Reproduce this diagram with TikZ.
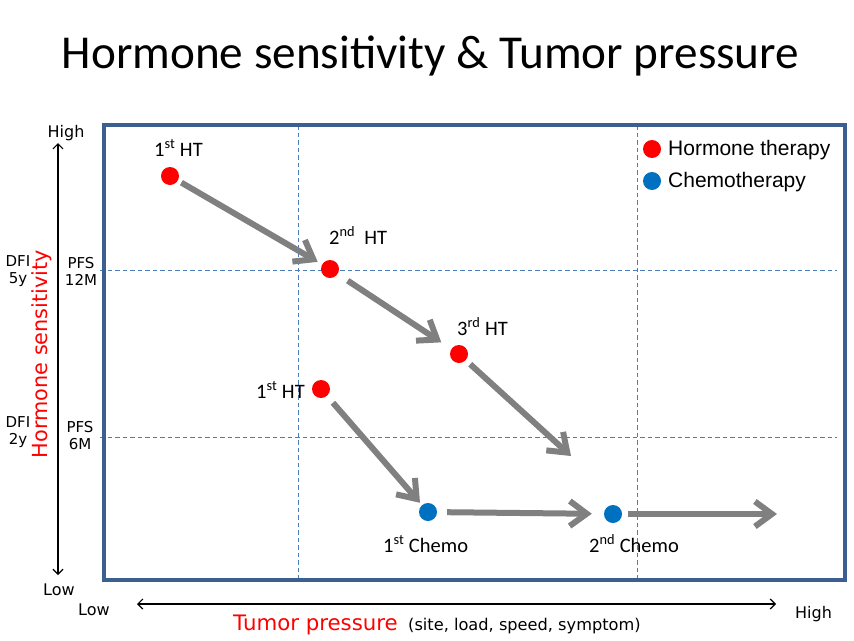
\documentclass[tikz,border=0pt]{standalone}
\usepackage{fontspec}
\setmainfont{Carlito}
\newfontfamily\dejavu{DejaVu Sans}
\newfontfamily\liber{Liberation Sans}
\usepackage{tikz}
\usetikzlibrary{arrows.meta}
\definecolor{frameblue}{HTML}{3B5F8F}
\definecolor{guideblue}{HTML}{4A7EBB}
\definecolor{arrowgray}{HTML}{808080}
\definecolor{chemoblue}{HTML}{0070C0}

\begin{document}
\begin{tikzpicture}[x=1pt,y=-1pt]
\tikzstyle{ht}=[circle, fill=red, minimum size=18pt, inner sep=0pt]
\tikzstyle{chemo}=[circle, fill=chemoblue, minimum size=18pt, inner sep=0pt]
\tikzstyle{txt}=[anchor=base west, inner sep=0pt, font=\fontsize{20.5}{22}\selectfont]
\tikzstyle{flow}=[-{Straight Barb[length=17pt,width=25pt]}, line width=6pt, draw=arrowgray]
\tikzstyle{guide}=[guideblue, line width=0.9pt, dash pattern=on 4.5pt off 3pt]
\tikzstyle{axis}=[{Straight Barb[length=5pt,width=10pt]}-{Straight Barb[length=5pt,width=10pt]}, line width=1.2pt]
\tikzstyle{ax}=[inner sep=0pt, font=\dejavu\fontsize{16}{18}\selectfont]
\tikzstyle{small}=[inner sep=0pt, align=center, font=\dejavu\fontsize{15}{17}\selectfont]
\tikzstyle{legend}=[anchor=base west, inner sep=0pt, font=\liber\fontsize{21}{23}\selectfont]
\useasboundingbox (0,0) rectangle (854,640);
\node[anchor=base, inner sep=0pt, font=\fontsize{47.2}{50}\selectfont] (title) at (430.5,68) {Hormone sensitivity \& Tumor pressure};
% frame and guide lines
\draw[guide] (298,125) -- (298,580);
\draw[guide] (637,125) -- (637,580);
\draw[guide] (100,270) -- (837,270);
\draw[guide] (100,437) -- (837,437);
\draw[frameblue, line width=3.5pt] (104,125) rectangle (845,580);
% vertical axis
\coordinate (ytop) at (58,143);
\coordinate (ybot) at (58,575);
\draw[axis] (ytop) -- (ybot);
\node[ax, anchor=base] (yhigh) at (66,137) {High};
\node[ax, anchor=base] (ylow) at (59,595) {Low};
\node[rotate=90, text=red, inner sep=0pt, font=\dejavu\fontsize{20.8}{22}\selectfont] (ylab) at (42,354) {Hormone sensitivity};
\node[small] (dfi5) at (18,271) {DFI\\5y};
\node[small] (pfs12) at (81,271) {PFS\\12M};
\node[small] (dfi2) at (18,432) {DFI\\2y};
\node[small] (pfs6) at (80,436) {PFS\\6M};
% horizontal axis
\coordinate (xleft) at (137,604);
\coordinate (xright) at (776,604);
\draw[axis] (xleft) -- (xright);
\node[ax, anchor=base west] (xlow) at (78,615) {Low};
\node[ax, anchor=base west] (xhigh) at (795,618) {High};
\node[anchor=base west, inner sep=0pt, text=red, font=\dejavu\fontsize{21.3}{22}\selectfont] (xlab) at (233,630) {Tumor pressure};
\node[anchor=base west, inner sep=0pt, font=\dejavu\fontsize{16.2}{18}\selectfont] (xsub) at (408,630) {(site, load, speed, symptom)};
% therapy points
\node[ht] (ht1) at (170,176) {};
\node[ht] (ht2) at (330,269) {};
\node[ht] (ht3) at (459,354) {};
\node[ht] (ht1b) at (321,389) {};
\node[chemo] (ch1) at (428,512) {};
\node[chemo] (ch2) at (613,514) {};
\coordinate (end3) at (571,456);
\coordinate (end6) at (777,514);
\node[txt] (t1) at (154,156) {1\textsuperscript{st} HT};
\node[txt] (t2) at (329,244) {2\textsuperscript{nd}\ \ HT};
\node[txt] (t3) at (457,335) {3\textsuperscript{rd} HT};
\node[txt] (t1b) at (256,398) {1\textsuperscript{st} HT};
\node[txt] (c1) at (383,552) {1\textsuperscript{st} Chemo};
\node[txt] (c2) at (589,552) {2\textsuperscript{nd} Chemo};
\path (ht1) edge [flow, shorten <=4pt, shorten >=5pt] (ht2);
\path (ht2) edge [flow, shorten <=12pt, shorten >=12pt] (ht3);
\path (ht3) edge [flow, shorten <=6pt] (end3);
\path (ht1b) edge [flow, shorten <=9pt, shorten >=3pt] (ch1);
\path (ch1) edge [flow, shorten <=10pt, shorten >=12pt] (ch2);
\path (ch2) edge [flow, shorten <=6pt] (end6);
% legend
\node[ht] (kht) at (652,149) {};
\node[chemo] (kch) at (652,181) {};
\node[legend] (lht) at (668,155) {Hormone therapy};
\node[legend] (lch) at (668,187) {Chemotherapy};
\end{tikzpicture}
\end{document}
